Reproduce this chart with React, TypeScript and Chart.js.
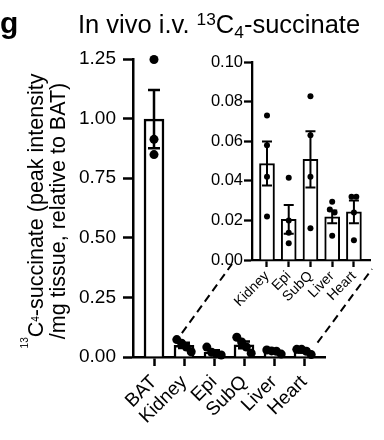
import React, { useEffect, useRef } from 'react';
import { Chart, registerables } from 'chart.js';

Chart.register(...registerables);

const FONT = "'Liberation Sans', Arial, Helvetica, sans-serif";

// ---- data ----
const CATEGORIES = ['BAT', 'Kidney', 'Epi', 'SubQ', 'Liver', 'Heart'];
const INSET_CATEGORIES = ['Kidney', 'Epi', 'SubQ', 'Liver', 'Heart'];

const BAT_POINTS = [1.248, 0.913, 0.849];
const KIDNEY_POINTS = [0.073, 0.058, 0.042, 0.022];
const EPI_POINTS = [0.0415, 0.020, 0.0138, 0.0084];
const SUBQ_POINTS = [0.0827, 0.063, 0.042, 0.016];
const LIVER_POINTS = [0.0294, 0.0255, 0.024, 0.0123];
const HEART_POINTS = [0.032, 0.032, 0.024, 0.010];

const MEANS = [0.998, 0.0487, 0.0205, 0.0508, 0.0218, 0.0243];
const SEMS = [0.122, 0.0111, 0.0073, 0.0142, 0.0032, 0.0058];

const MAIN_Y_TICKS = [0, 0.25, 0.5, 0.75, 1.0, 1.25];
const INSET_Y_TICKS = [0, 0.02, 0.04, 0.06, 0.08, 0.1];

const ALL_POINTS = [BAT_POINTS, KIDNEY_POINTS, EPI_POINTS, SUBQ_POINTS, LIVER_POINTS, HEART_POINTS];

// horizontal dodge of overlapping dots (like a scatter-dot plot)
function dodge(values: number[], tol: number, step: number): number[] {
  const idx = values.map((_, i) => i).sort((a, b) => values[b] - values[a]);
  const off = new Array(values.length).fill(0);
  let group: number[] = [];
  const flush = () => {
    group.forEach((gi, k) => {
      off[gi] = (k - (group.length - 1) / 2) * step;
    });
    group = [];
  };
  idx.forEach((i) => {
    if (group.length && values[group[group.length - 1]] - values[i] > tol) flush();
    group.push(i);
  });
  flush();
  return off;
}

function makeErrorBars(xs: number[], means: number[], sems: number[], lw: number, cap: number) {
  return {
    id: 'errorBars',
    afterDatasetDraw(chart: any, args: any) {
      if (args.index !== 0) return;
      const { ctx, scales } = chart;
      const x = scales.x;
      const y = scales.y;
      ctx.save();
      ctx.strokeStyle = '#000';
      ctx.lineWidth = lw;
      means.forEach((m, i) => {
        const cx = x.getPixelForValue(xs[i]);
        const top = y.getPixelForValue(m + sems[i]);
        const bot = y.getPixelForValue(m - sems[i]);
        ctx.beginPath();
        ctx.moveTo(cx, top);
        ctx.lineTo(cx, bot);
        ctx.moveTo(cx - cap, top);
        ctx.lineTo(cx + cap, top);
        ctx.moveTo(cx - cap, bot);
        ctx.lineTo(cx + cap, bot);
        ctx.stroke();
      });
      ctx.restore();
    },
  };
}

export default function App() {
  const mainRef = useRef<HTMLCanvasElement | null>(null);
  const insetRef = useRef<HTMLCanvasElement | null>(null);

  useEffect(() => {
    if (!mainRef.current || !insetRef.current) return;

    // ---------- inset ----------
    const insetDots: { x: number; y: number }[] = [];
    ALL_POINTS.slice(1).forEach((pts, ci) => {
      const off = dodge(pts, 0.003, 0.22);
      pts.forEach((v, k) => insetDots.push({ x: ci + off[k], y: v }));
    });
    const insetIdx = INSET_CATEGORIES.map((_, i) => i);

    const inset = new Chart(insetRef.current, {
      type: 'bar',
      data: {
        datasets: [
          {
            type: 'bar',
            data: MEANS.slice(1).map((m, i) => ({ x: i, y: m })),
            backgroundColor: '#fff',
            borderColor: '#000',
            borderWidth: 2,
            barThickness: 15,
            order: 1,
          } as any,
          {
            type: 'scatter',
            data: insetDots,
            backgroundColor: '#000',
            borderWidth: 0,
            pointRadius: 3,
            order: 0,
            clip: false,
          } as any,
        ],
      },
      options: {
        animation: false,
        responsive: false,
        devicePixelRatio: 1,
        layout: { padding: { top: 62, right: 14, left: 0, bottom: 0 } },
        plugins: { legend: { display: false }, tooltip: { enabled: false } },
        scales: {
          x: {
            type: 'linear',
            min: -0.69,
            max: 4.74,
            offset: false,
            afterFit(s: any) { s.height = 180; },
            afterBuildTicks(s: any) { s.ticks = insetIdx.map((v) => ({ value: v })); },
            border: { display: true, color: '#000', width: 2.3 },
            grid: { display: true, offset: false, drawOnChartArea: false, drawTicks: true, tickLength: 7, tickWidth: 2.3, tickColor: '#000' },
            ticks: {
              autoSkip: false, maxRotation: 45, minRotation: 45, color: '#000', padding: 1,
              font: { family: FONT, size: 14 },
              callback: (v: any) => INSET_CATEGORIES[Math.round(Number(v))],
            },
          },
          y: {
            type: 'linear',
            min: 0,
            max: 0.1,
            afterFit(s: any) { s.width = 252; },
            afterBuildTicks(s: any) { s.ticks = INSET_Y_TICKS.map((v) => ({ value: v })); },
            border: { display: true, color: '#000', width: 2.3 },
            grid: { display: true, drawOnChartArea: false, drawTicks: true, tickLength: 8, tickWidth: 2.3, tickColor: '#000' },
            ticks: {
              color: '#000', padding: 1,
              font: { family: FONT, size: 16.5 },
              callback: (v: any) => Number(v).toFixed(2),
            },
          },
        },
      } as any,
      plugins: [makeErrorBars(insetIdx, MEANS.slice(1), SEMS.slice(1), 2, 5)],
    });

    // ---------- main ----------
    const mainDots: { x: number; y: number }[] = [];
    ALL_POINTS.forEach((pts, ci) => {
      const off = dodge(pts, 0.05, 0.16);
      pts.forEach((v, k) => mainDots.push({ x: ci + off[k], y: v }));
    });
    const mainIdx = CATEGORIES.map((_, i) => i);

    const connectors = {
      id: 'connectors',
      afterDraw(chart: any) {
        const ia = inset.chartArea;
        if (!ia) return;
        const { ctx, scales } = chart;
        ctx.save();
        ctx.setLineDash([8, 5]);
        ctx.lineWidth = 2;
        ctx.strokeStyle = '#000';
        ctx.beginPath();
        ctx.moveTo(scales.x.getPixelForValue(0.93), scales.y.getPixelForValue(0.1));
        ctx.lineTo(ia.left - 20, ia.bottom + 4);
        ctx.moveTo(scales.x.getPixelForValue(5.45), scales.y.getPixelForValue(0.06));
        ctx.lineTo(ia.right + 2, ia.bottom + 9);
        ctx.stroke();
        ctx.restore();
      },
    };

    const main = new Chart(mainRef.current, {
      type: 'bar',
      data: {
        datasets: [
          {
            type: 'bar',
            data: MEANS.map((m, i) => ({ x: i, y: m })),
            backgroundColor: '#fff',
            borderColor: '#000',
            borderWidth: 2.5,
            barThickness: 20,
            order: 1,
          } as any,
          {
            type: 'scatter',
            data: mainDots,
            backgroundColor: '#000',
            borderWidth: 0,
            pointRadius: 4.5,
            order: 0,
            clip: false,
          } as any,
        ],
      },
      options: {
        animation: false,
        responsive: false,
        devicePixelRatio: 1,
        layout: { padding: { top: 59, right: 59, left: 0, bottom: 0 } },
        plugins: { legend: { display: false }, tooltip: { enabled: false } },
        scales: {
          x: {
            type: 'linear',
            min: -0.7,
            max: 5.7,
            offset: false,
            afterFit(s: any) { s.height = 83; },
            afterBuildTicks(s: any) { s.ticks = mainIdx.map((v) => ({ value: v })); },
            border: { display: true, color: '#000', width: 2.5 },
            grid: { display: true, offset: false, drawOnChartArea: false, drawTicks: true, tickLength: 9, tickWidth: 2.5, tickColor: '#000' },
            ticks: {
              autoSkip: false, maxRotation: 45, minRotation: 45, color: '#000', padding: 5,
              font: { family: FONT, size: 19 },
              callback: (v: any) => CATEGORIES[Math.round(Number(v))],
            },
          },
          y: {
            type: 'linear',
            min: 0,
            max: 1.25,
            afterFit(s: any) { s.width = 133; },
            afterBuildTicks(s: any) { s.ticks = MAIN_Y_TICKS.map((v) => ({ value: v })); },
            border: { display: true, color: '#000', width: 2.5 },
            grid: { display: true, drawOnChartArea: false, drawTicks: true, tickLength: 10, tickWidth: 2.5, tickColor: '#000' },
            ticks: {
              color: '#000', padding: 7,
              font: { family: FONT, size: 19 },
              callback: (v: any) => Number(v).toFixed(2),
            },
          },
        },
      } as any,
      plugins: [makeErrorBars(mainIdx, MEANS, SEMS, 2.5, 6), connectors],
    });

    return () => {
      main.destroy();
      inset.destroy();
    };
  }, []);

  const abs: React.CSSProperties = { position: 'absolute', left: 0, top: 0 };

  return (
    <div style={{ position: 'absolute', left: 0, top: 0, width: 384, height: 440, background: '#fff', fontFamily: FONT, color: '#000', overflow: 'hidden' }}>
      <canvas ref={mainRef} width={384} height={440} style={abs} />
      <canvas ref={insetRef} width={384} height={440} style={abs} />
      <div style={{ position: 'absolute', left: 0, top: 8, fontSize: 30, lineHeight: '30px', fontWeight: 'bold' }}>g</div>
      <div style={{ position: 'absolute', left: 78, top: 12, fontSize: 25.5, lineHeight: '25px', whiteSpace: 'nowrap' }}>
        In vivo i.v. <span style={{ fontSize: '0.68em', position: 'relative', top: -8 }}>13</span>C<span style={{ fontSize: '0.68em', position: 'relative', top: 5 }}>4</span>-succinate
      </div>
      <div
        style={{
          position: 'absolute', left: 45.4 - 150, top: 211 - 18, width: 300, height: 36,
          transform: 'rotate(-90deg)', transformOrigin: '50% 50%', textAlign: 'center',
          fontSize: 21.5, lineHeight: '18px', whiteSpace: 'nowrap',
        }}
      >
        <span style={{ fontSize: 10, position: 'relative', top: -15 }}>13</span>C<span style={{ fontSize: 10, position: 'relative', top: -4 }}>4</span>-succinate (peak intensity
        <br />
        /mg tissue, relative to BAT)
      </div>
    </div>
  );
}
